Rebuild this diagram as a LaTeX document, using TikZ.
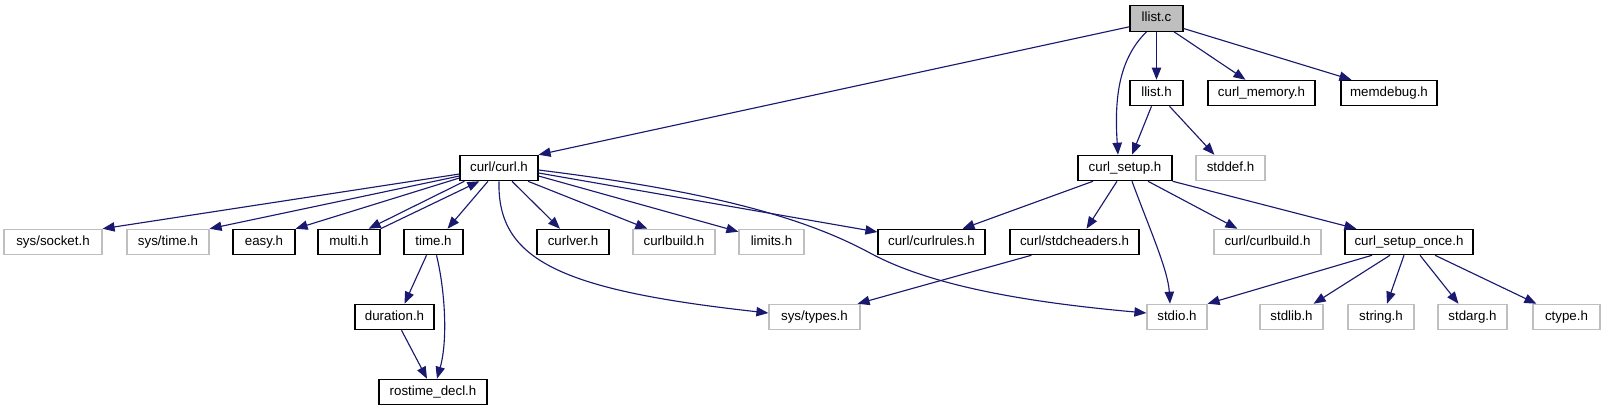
\documentclass[tikz,border=0pt]{standalone}
\usepackage{fontspec}
\setmainfont{Liberation Sans}
\usetikzlibrary{arrows.meta,calc}
\definecolor{edgeblue}{HTML}{191970}
\definecolor{grayline}{HTML}{BFBFBF}
\begin{document}
\begin{tikzpicture}[x=0.75pt,y=-0.75pt,
  hdr/.style={draw=black, line width=0.9pt, inner sep=0pt, minimum height=19pt,
    text height=7.2pt, text depth=2pt, font=\fontsize{10}{12}\selectfont, text=black},
  ext/.style={hdr, draw=grayline},
  dep/.style={draw=edgeblue, line width=0.85pt, -{Triangle[length=9pt,width=7pt]}}]
\useasboundingbox (0,0) rectangle (1604,411);

% row 0
\node[hdr, fill=grayline, minimum width={53*0.75pt}] (llistc) at (1156.5,18.5) {llist.c};
% row 1
\node[hdr, minimum width={53*0.75pt}] (llisth) at (1156.5,93) {llist.h};
\node[hdr, minimum width={107*0.75pt}] (memory) at (1261.5,93) {curl\_memory.h};
\node[hdr, minimum width={96*0.75pt}] (memdebug) at (1389,93) {memdebug.h};
% row 2
\node[hdr, minimum width={78*0.75pt}] (curl) at (499,168) {curl/curl.h};
\node[hdr, minimum width={94*0.75pt}] (setup) at (1125,168) {curl\_setup.h};
\node[ext, minimum width={69*0.75pt}] (stddef) at (1230.5,168) {stddef.h};
% row 3
\node[ext, minimum width={98*0.75pt}] (socket) at (53,242) {sys/socket.h};
\node[ext, minimum width={82*0.75pt}] (systime) at (168,242) {sys/time.h};
\node[hdr, minimum width={62*0.75pt}] (easy) at (264,242) {easy.h};
\node[hdr, minimum width={62*0.75pt}] (multi) at (349,242) {multi.h};
\node[hdr, minimum width={59*0.75pt}] (time) at (433.5,242) {time.h};
\node[hdr, minimum width={72*0.75pt}] (curlver) at (573,242) {curlver.h};
\node[ext, minimum width={82*0.75pt}] (curlbuild) at (674,242) {curlbuild.h};
\node[ext, minimum width={65*0.75pt}] (limits) at (771.5,242) {limits.h};
\node[hdr, minimum width={107*0.75pt}] (curlrules) at (931.5,242) {curl/curlrules.h};
\node[hdr, minimum width={129*0.75pt}] (stdcheaders) at (1074.5,242) {curl/stdcheaders.h};
\node[ext, minimum width={107*0.75pt}] (curlbuildb) at (1267.5,242) {curl/curlbuild.h};
\node[hdr, minimum width={128*0.75pt}] (setuponce) at (1409,242) {curl\_setup\_once.h};
% row 4
\node[hdr, minimum width={79*0.75pt}] (duration) at (394.5,317) {duration.h};
\node[ext, minimum width={91*0.75pt}] (types) at (814.5,317) {sys/types.h};
\node[ext, minimum width={60*0.75pt}] (stdio) at (1177,317) {stdio.h};
\node[ext, minimum width={63*0.75pt}] (stdlib) at (1291.5,317) {stdlib.h};
\node[ext, minimum width={66*0.75pt}] (string) at (1381,317) {string.h};
\node[ext, minimum width={69*0.75pt}] (stdarg) at (1472.5,317) {stdarg.h};
\node[ext, minimum width={67*0.75pt}] (ctype) at (1566.5,317) {ctype.h};
% row 5
\node[hdr, minimum width={108*0.75pt}] (rostime) at (433,392) {rostime\_decl.h};

% llist.c
\draw[dep] ($(llistc.south west)+(0,-5)$) -- (curl.north east);
\draw[dep] ($(llistc.south)+(-10,0)$) .. controls (1120,58) and (1114,95) .. ($(setup.north)+(-7,0)$);
\draw[dep] (llistc.south) -- (llisth.north);
\draw[dep] ($(llistc.south)+(17.5,0)$) -- ($(memory.north)+(-16,0)$);
\draw[dep] ($(llistc.east)+(0,10)$) -- ($(memdebug.north west)+(11,0)$);
% llist.h
\draw[dep] ($(llisth.south)+(-5,0)$) -- ($(setup.north)+(7,0)$);
\draw[dep] ($(llisth.south)+(13,0)$) -- ($(stddef.north west)+(19,0)$);
% curl/curl.h
\draw[dep] ($(curl.west)+(0,6)$) -- (socket.north east);
\draw[dep] ($(curl.west)+(0,8)$) -- (systime.north east);
\draw[dep] ($(curl.west)+(0,10)$) -- (easy.north east);
\draw[dep] ($(curl.south west)+(5,0)$) -- ($(multi.north east)+(-12,0)$);
\draw[dep] (multi.north east) -- ($(curl.south west)+(20,0)$);
\draw[dep] ($(curl.south)+(-11,0)$) -- ($(time.north)+(14,0)$);
\draw[dep] (curl.south) .. controls (497,260) and (560,290) .. ($(types.west)+(0,-4)$);
\draw[dep] ($(curl.south)+(13,0)$) -- ($(curlver.north)+(-13,0)$);
\draw[dep] ($(curl.south)+(29,0)$) -- ($(curlbuild.north west)+(15,0)$);
\draw[dep] ($(curl.east)+(0,8)$) -- ($(limits.north west)+(0,3)$);
\draw[dep] ($(curl.east)+(0,5)$) -- ($(curlrules.west)+(0,-10)$);
\draw[dep] ($(curl.east)+(0,2)$) .. controls (700,190) and (800,215) .. (870,253)
  .. controls (920,280) and (1000,300) .. ($(stdio.west)+(0,-4)$);
% curl_setup.h
\draw[dep] ($(setup.south)+(-32,0)$) -- ($(curlrules.north)+(31,0)$);
\draw[dep] ($(setup.south)+(-8,0)$) -- ($(stdcheaders.north)+(12,0)$);
\draw[dep] ($(setup.south)+(7,0)$) .. controls (1150,230) and (1168,270) .. ($(stdio.north)+(-7,0)$);
\draw[dep] ($(setup.south)+(23,0)$) -- ($(curlbuildb.north west)+(24,0)$);
\draw[dep] (setup.south east) -- ($(setuponce.north west)+(12,0)$);
% curl/stdcheaders.h
\draw[dep] ($(stdcheaders.south west)+(22,0)$) -- ($(types.north east)+(-3,0)$);
% curl_setup_once.h
\draw[dep] ($(setuponce.south)+(-37,0)$) -- (stdio.north east);
\draw[dep] ($(setuponce.south)+(-19,0)$) -- ($(stdlib.north east)+(-10,0)$);
\draw[dep] ($(setuponce.south)+(-5,0)$) -- ($(string.north)+(6,0)$);
\draw[dep] ($(setuponce.south)+(11,0)$) -- ($(stdarg.north)+(-14,0)$);
\draw[dep] ($(setuponce.south)+(26,0)$) -- ($(ctype.north west)+(4,0)$);
% time.h
\draw[dep] ($(time.south)+(-7,0)$) -- ($(duration.north)+(10,0)$);
\draw[dep] ($(time.south)+(3,0)$) .. controls (445,290) and (448,340) .. ($(rostime.north)+(4,0)$);
% duration.h
\draw[dep] ($(duration.south)+(7,0)$) -- ($(rostime.north)+(-6,0)$);
\end{tikzpicture}
\end{document}
